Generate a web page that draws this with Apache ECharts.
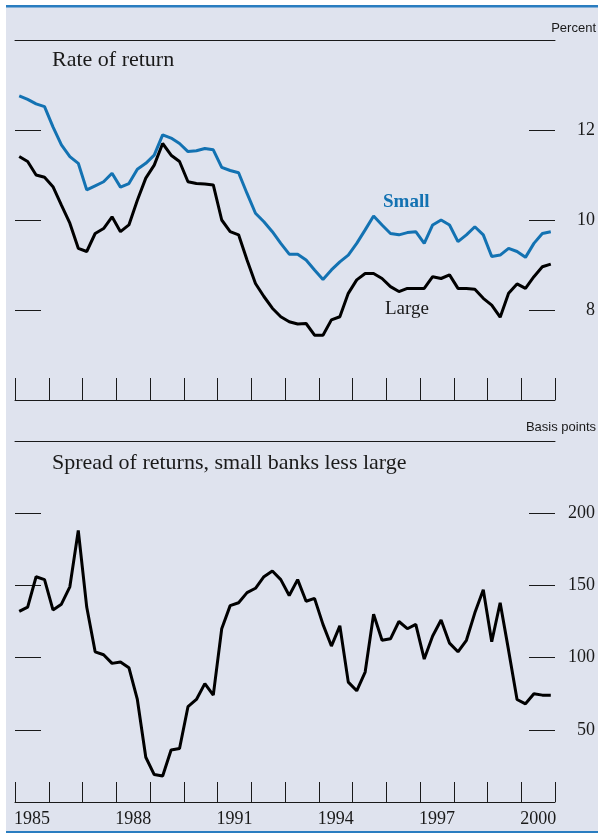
<!DOCTYPE html>
<html><head><meta charset="utf-8">
<script src="https://cdn.jsdelivr.net/npm/echarts@6/dist/echarts.min.js"></script>
<style>html,body{margin:0;padding:0;background:#fff}#c{width:598px;height:834px}</style>
</head><body><div id="c"></div>
<script>
const years = ['1985','1986','1987','1988','1989','1990','1991','1992','1993','1994','1995','1996','1997','1998','1999','2000'];
const quarters = years.flatMap(y => ['Q1','Q2','Q3','Q4'].map(q => y + q));

const smallBanks = [12.76,12.68,12.58,12.52,12.07,11.67,11.41,11.26,10.67,10.76,10.85,11.04,10.73,10.81,11.13,11.26,11.44,11.89,11.82,11.70,11.52,11.54,
  11.59,11.56,11.17,11.10,11.05,10.59,10.15,9.96,9.74,9.48,9.24,9.24,9.11,8.89,8.68,8.89,9.07,9.22,9.48,9.78,10.09,9.89,
  9.70,9.67,9.72,9.74,9.48,9.89,10.00,9.89,9.52,9.67,9.85,9.67,9.19,9.22,9.37,9.30,9.17,9.48,9.70,9.74];
const largeBanks = [11.41,11.30,11.00,10.95,10.74,10.33,9.93,9.37,9.30,9.70,9.81,10.07,9.74,9.89,10.44,10.93,11.22,11.70,11.44,11.30,10.85,10.81,
  10.80,10.78,10.00,9.74,9.67,9.11,8.59,8.30,8.04,7.85,7.74,7.69,7.70,7.44,7.44,7.78,7.85,8.37,8.67,8.81,8.81,8.70,
  8.52,8.41,8.48,8.48,8.48,8.74,8.70,8.78,8.48,8.48,8.46,8.26,8.11,7.84,8.37,8.58,8.48,8.74,8.96,9.02];
const spreadBp = [132,135,156,154,133,137,149,188,135,104,102,96,97,93,71,31,19,18,36,37,66,71,
  82,74,120,136,138,145,148,156,160,154,143,154,139,141,123,108,122,83,77,90,130,112,
  113,125,120,123,99,115,126,110,104,112,131,147,111,138,105,71,68,75,74,74];

const pctAxis = {min: 6, max: 14, step: 2};
const bpAxis = {min: 0, max: 250, step: 50};

const BLUE = '#1372b2';
const INK = '#1a1a1a';
const SERIF = '"Liberation Serif", "Times New Roman", serif';
const SANS = '"Liberation Sans", Arial, sans-serif';

function topLine(gi) {
  return {type: 'category', gridIndex: gi, data: quarters, boundaryGap: true, position: 'top',
    axisLine: {show: true, onZero: false, lineStyle: {color: INK, width: 1}}, axisTick: {show: false}, axisLabel: {show: false}};
}
function yearAxis(gi, len, labels) {
  return {type: 'category', gridIndex: gi, data: years, boundaryGap: true, position: 'bottom',
    axisLine: {show: true, onZero: false, lineStyle: {color: INK, width: 1}},
    axisTick: {show: true, inside: true, length: len, interval: 0, alignWithLabel: false, lineStyle: {color: INK, width: 1}},
    axisLabel: labels ? {show: true, interval: 2, color: INK, fontFamily: SERIF, fontSize: 18, margin: 8} : {show: false}};
}
function yAx(gi, pos, ax, labels) {
  return {type: 'value', gridIndex: gi, position: pos, min: ax.min, max: ax.max, interval: ax.step,
    axisLine: {show: false}, splitLine: {show: false},
    axisTick: {show: true, inside: true, length: 26, lineStyle: {color: INK, width: 1}},
    axisLabel: labels ? {show: true, showMinLabel: false, showMaxLabel: false, align: 'right', margin: 40,
      color: INK, fontFamily: SERIF, fontSize: 18} : {show: false}};
}

const chart = echarts.init(document.getElementById('c'), null, {renderer: 'canvas'});
chart.setOption({
  animation: false,
  backgroundColor: '#ffffff',
  grid: [
    {left: 15, right: 43, top: 40, height: 360},
    {left: 15, right: 43, top: 441, height: 361}
  ],
  xAxis: [topLine(0), yearAxis(0, 22, false), topLine(1), yearAxis(1, 20, true)],
  yAxis: [yAx(0, 'left', pctAxis, false), yAx(0, 'right', pctAxis, true), yAx(1, 'left', bpAxis, false), yAx(1, 'right', bpAxis, true)],
  series: [
    {name: 'Small', type: 'line', xAxisIndex: 0, yAxisIndex: 0, data: smallBanks, symbol: 'none', lineStyle: {color: BLUE, width: 3}, z: 3},
    {name: 'Large', type: 'line', xAxisIndex: 0, yAxisIndex: 0, data: largeBanks, symbol: 'none', lineStyle: {color: '#000', width: 3}, z: 4},
    {name: 'Spread', type: 'line', xAxisIndex: 2, yAxisIndex: 2, data: spreadBp, symbol: 'none', lineStyle: {color: '#000', width: 3}}
  ],
  graphic: [
    {type: 'rect', z: -100, shape: {x: 6, y: 7, width: 592, height: 825}, style: {fill: '#dfe3ee'}},
    {type: 'rect', z: -90, shape: {x: 6, y: 5, width: 592, height: 2.5}, style: {fill: '#2a7dc0'}},
    {type: 'rect', z: -90, shape: {x: 6, y: 831, width: 592, height: 2}, style: {fill: '#2a7dc0'}},
    {type: 'text', x: 596, y: 28, style: {text: 'Percent', font: '13px ' + SANS, fill: INK, align: 'right', verticalAlign: 'middle'}},
    {type: 'text', x: 52, y: 60, style: {text: 'Rate of return', font: '22px ' + SERIF, fill: INK, align: 'left', verticalAlign: 'middle'}},
    {type: 'text', x: 383, y: 202, style: {text: 'Small', font: 'bold 19px ' + SERIF, fill: BLUE, align: 'left', verticalAlign: 'middle'}},
    {type: 'text', x: 385, y: 309, style: {text: 'Large', font: '19px ' + SERIF, fill: INK, align: 'left', verticalAlign: 'middle'}},
    {type: 'text', x: 596, y: 427, style: {text: 'Basis points', font: '13px ' + SANS, fill: INK, align: 'right', verticalAlign: 'middle'}},
    {type: 'text', x: 52, y: 463, style: {text: 'Spread of returns, small banks less large', font: '22px ' + SERIF, fill: INK, align: 'left', verticalAlign: 'middle'}}
  ]
});
</script>
</body></html>
